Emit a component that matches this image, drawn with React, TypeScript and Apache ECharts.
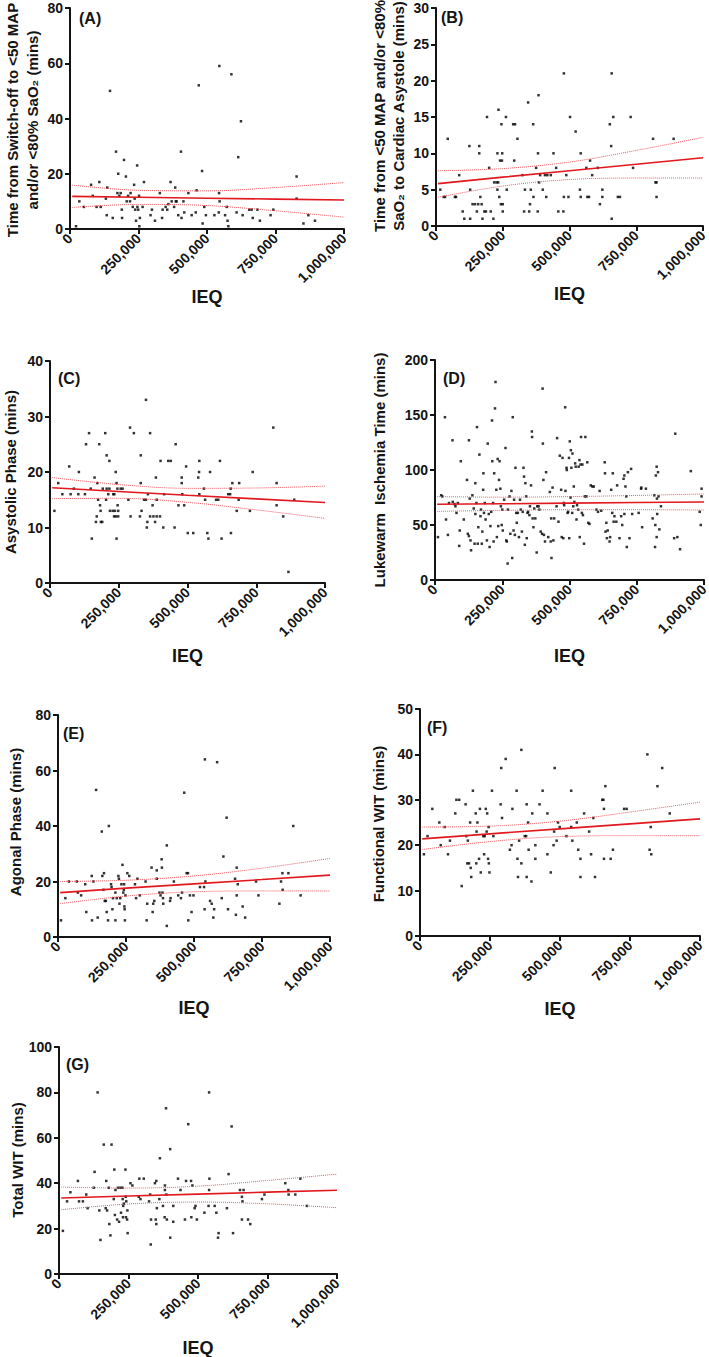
import React, { useEffect, useRef } from "react";
import * as echarts from "echarts";

// IEQ values are stored in thousands; y values in minutes.
const pointsA: number[][] = [[22,1],[34,10],[51,8],[77,16],[83,12],[97,8],[107,17],[112,8],[131,11],[134,5],[136,15],[146,50],[156,4],[168,28],[173,13],[176,20],[180,12],[185,13],[189,7],[190,4],[197,25],[204,19],[207,10],[212,12],[219,10],[221,13],[229,8],[234,16],[236,11],[238,7],[241,3],[245,23],[246,8],[249,7],[252,12],[253,1],[255,4],[265,8],[270,17],[294,5],[299,7],[310,3],[328,13],[336,4],[338,7],[349,8],[355,7],[359,9],[367,17],[371,10],[380,8],[384,15],[386,10],[389,10],[395,5],[405,28],[407,4],[414,10],[417,6],[432,13],[444,5],[459,6],[462,14],[470,52],[482,21],[484,2],[490,8],[496,5],[527,5],[543,6],[544,13],[545,59],[546,10],[566,5],[572,8],[575,3],[578,1],[589,56],[608,6],[614,26],[624,39],[630,5],[654,7],[663,7],[667,4],[684,7],[693,3],[732,5],[742,7],[827,19],[827,11],[852,2],[870,5],[894,3]];

const pointsB: number[][] = [[16,5],[29,4],[34,4],[44,12],[71,4],[75,4],[87,7],[100,2],[106,1],[125,11],[128,5],[128,1],[137,3],[146,3],[153,2],[158,3],[162,11],[162,10],[166,4],[171,3],[174,1],[181,2],[187,2],[191,15],[199,8],[205,2],[215,1],[218,6],[227,6],[230,10],[230,5],[233,6],[234,16],[237,4],[240,9],[243,3],[245,14],[247,9],[248,10],[250,3],[250,2],[262,15],[265,5],[289,14],[293,9],[296,14],[305,12],[324,7],[330,2],[333,5],[345,17],[349,2],[352,3],[355,5],[364,14],[365,4],[375,8],[381,2],[382,10],[384,18],[386,6],[390,7],[400,5],[408,7],[413,4],[417,7],[430,7],[440,10],[450,8],[458,2],[477,2],[479,21],[479,4],[488,7],[496,4],[502,15],[523,13],[539,5],[542,10],[542,4],[563,8],[567,4],[573,4],[577,9],[585,7],[606,8],[614,3],[623,5],[623,4],[651,14],[656,11],[658,21],[658,1],[664,15],[681,4],[689,4],[729,15],[738,8],[813,12],[822,6],[826,6],[826,4],[890,12]];

const pointsC: number[][] = [[16,13],[30,18],[45,16],[70,21],[75,16],[87,17],[103,16],[105,20],[127,16],[131,25],[142,27],[148,17],[152,8],[162,19],[167,11],[170,12],[172,18],[175,15],[179,25],[182,14],[184,13],[185,11],[190,11],[192,17],[201,27],[204,15],[206,17],[206,23],[212,16],[216,22],[216,17],[218,13],[228,13],[230,16],[233,12],[234,16],[236,13],[239,20],[239,12],[242,18],[242,8],[245,17],[246,14],[248,13],[248,12],[257,17],[264,17],[285,15],[291,28],[293,12],[305,27],[327,12],[330,18],[330,23],[333,13],[342,15],[349,33],[349,15],[352,10],[354,11],[356,16],[364,27],[364,12],[373,14],[376,12],[382,11],[385,19],[388,15],[388,12],[400,12],[402,22],[412,10],[415,16],[430,22],[439,22],[453,10],[457,25],[467,14],[479,19],[479,18],[481,16],[488,14],[495,21],[501,9],[521,9],[539,19],[542,20],[543,22],[543,16],[560,17],[564,15],[572,9],[576,8],[582,20],[604,15],[612,15],[618,22],[624,8],[648,16],[655,16],[657,17],[658,9],[663,18],[679,13],[686,15],[688,18],[727,13],[737,20],[812,28],[824,18],[824,14],[848,12],[867,2],[888,15]];

const pointsD: number[][] = [[11,39],[23,77],[27,76],[37,148],[41,55],[48,41],[52,70],[65,127],[66,71],[73,69],[76,67],[80,61],[85,70],[90,31],[92,45],[96,108],[107,55],[119,91],[122,42],[126,127],[126,40],[129,74],[132,36],[134,27],[139,77],[144,65],[147,33],[150,88],[150,60],[154,70],[156,139],[159,33],[161,48],[165,114],[169,58],[171,64],[174,33],[176,44],[179,82],[180,97],[182,61],[185,70],[188,55],[193,36],[196,124],[200,60],[203,30],[206,49],[209,62],[212,145],[213,108],[216,70],[218,35],[220,97],[223,156],[225,180],[228,82],[230,39],[233,110],[235,49],[238,91],[240,108],[243,83],[245,67],[248,50],[250,64],[252,45],[257,73],[262,120],[265,36],[267,35],[270,15],[271,64],[277,76],[280,42],[284,81],[287,20],[289,148],[292,45],[294,73],[297,41],[299,102],[302,61],[304,52],[308,61],[312,39],[316,73],[319,64],[323,44],[326,62],[329,102],[331,94],[334,32],[336,88],[339,76],[341,38],[344,61],[346,62],[351,59],[353,67],[357,86],[360,135],[361,130],[363,56],[366,48],[369,65],[373,56],[378,25],[380,67],[385,67],[388,64],[393,44],[398,42],[400,174],[401,124],[403,91],[405,41],[409,35],[413,98],[421,39],[427,80],[430,35],[432,56],[433,20],[437,84],[440,36],[443,56],[452,67],[454,129],[459,53],[464,113],[469,82],[471,39],[474,111],[477,38],[479,70],[480,68],[484,157],[485,81],[489,102],[490,100],[493,61],[495,62],[498,111],[499,38],[501,126],[504,75],[505,118],[507,102],[510,61],[511,115],[514,67],[516,85],[518,71],[521,106],[523,103],[526,55],[528,68],[532,64],[534,103],[537,109],[538,39],[541,105],[543,130],[546,61],[548,105],[550,59],[554,33],[557,76],[559,130],[563,76],[566,107],[570,52],[574,51],[579,86],[585,85],[590,85],[600,64],[606,62],[612,81],[618,63],[631,107],[632,97],[634,44],[637,52],[639,38],[642,45],[649,35],[651,39],[655,82],[659,61],[661,97],[664,53],[667,58],[674,53],[677,86],[686,38],[692,58],[696,50],[701,92],[704,95],[704,60],[708,85],[711,76],[713,30],[717,98],[723,38],[729,101],[733,60],[757,61],[766,83],[767,84],[770,48],[784,83],[809,56],[815,77],[818,30],[819,50],[821,95],[824,103],[824,39],[825,74],[826,60],[829,98],[831,76],[834,46],[840,67],[889,38],[893,133],[901,39],[911,28],[951,99],[984,62],[988,50],[991,83],[991,76]];

const pointsE: number[][] = [[11,6],[27,14],[40,20],[69,20],[73,16],[85,15],[100,19],[104,9],[124,22],[125,6],[130,20],[140,53],[146,7],[161,38],[163,22],[167,17],[169,23],[172,13],[176,13],[179,9],[184,6],[187,40],[195,19],[197,18],[200,10],[202,14],[211,16],[211,6],[216,14],[222,22],[224,21],[226,12],[229,14],[233,19],[237,26],[240,16],[242,17],[243,19],[244,11],[245,10],[246,6],[248,15],[255,23],[262,22],[283,19],[287,14],[292,21],[301,15],[322,20],[326,6],[328,12],[344,25],[348,9],[350,12],[354,13],[363,24],[363,21],[373,16],[377,15],[381,28],[382,25],[384,16],[386,14],[387,12],[400,33],[400,4],[412,13],[414,14],[426,20],[442,15],[452,14],[456,16],[464,52],[473,23],[478,23],[479,6],[485,15],[491,9],[498,15],[522,18],[537,18],[539,10],[540,64],[542,20],[559,13],[565,12],[571,7],[574,10],[585,63],[602,14],[608,29],[620,43],[625,10],[651,21],[654,8],[657,25],[657,15],[661,19],[679,11],[688,7],[728,20],[737,15],[814,12],[820,20],[825,23],[826,17],[847,23],[865,40],[892,15]];

const pointsF: number[][] = [[14,18],[27,22],[44,28],[69,25],[74,20],[88,24],[100,18],[107,21],[126,27],[130,30],[140,30],[149,11],[163,29],[165,22],[169,16],[171,21],[175,16],[179,25],[181,15],[183,13],[189,32],[199,27],[201,16],[202,23],[205,25],[211,17],[214,28],[217,14],[226,22],[229,18],[231,22],[235,28],[238,23],[240,27],[243,17],[245,24],[246,16],[248,14],[257,32],[262,22],[288,29],[290,37],[293,26],[306,39],[321,19],[327,20],[330,28],[345,32],[348,17],[350,13],[354,21],[362,16],[362,41],[374,22],[379,22],[381,29],[381,13],[386,25],[388,19],[398,12],[401,27],[412,20],[412,17],[427,29],[438,32],[455,27],[455,18],[467,14],[477,20],[479,23],[481,37],[488,21],[493,25],[499,24],[523,22],[540,32],[540,24],[544,21],[560,25],[565,19],[573,17],[573,13],[586,27],[604,23],[611,18],[619,26],[625,13],[651,30],[655,30],[657,28],[657,17],[662,33],[681,17],[689,19],[729,28],[738,28],[812,40],[820,19],[824,24],[826,18],[848,33],[865,37],[892,27]];

const pointsG: number[][] = [[14,19],[29,32],[41,36],[68,41],[72,32],[86,32],[98,35],[103,29],[125,38],[128,45],[139,80],[145,28],[149,15],[161,57],[168,29],[170,41],[173,28],[179,38],[181,22],[185,17],[189,57],[197,33],[199,46],[203,37],[201,26],[209,24],[212,38],[216,23],[221,38],[223,27],[228,38],[229,33],[230,25],[231,30],[233,31],[239,46],[240,34],[241,25],[242,32],[245,24],[246,28],[247,18],[257,40],[264,39],[287,34],[289,42],[293,33],[305,42],[324,32],[328,35],[330,13],[331,24],[345,40],[348,24],[350,41],[350,22],[352,29],[361,33],[363,51],[374,30],[380,25],[381,37],[381,39],[385,73],[386,35],[388,24],[400,55],[400,16],[411,30],[411,23],[428,42],[437,37],[453,24],[457,41],[465,66],[475,41],[476,25],[480,39],[488,29],[491,30],[496,24],[523,27],[540,80],[541,42],[540,37],[538,30],[560,30],[566,27],[572,16],[574,18],[604,29],[610,44],[621,65],[626,18],[651,37],[658,34],[660,32],[658,24],[664,37],[680,24],[688,22],[730,33],[739,35],[814,40],[825,37],[826,35],[850,35],[868,42],[892,30]];

// Regression line and 95% band values (IEQ in thousands)
const bandX: number[] = [8, 250, 500, 750, 1000];
const fitA: number[] = [11.8, 11.47, 11.15, 10.83, 10.5];
const upperA: number[] = [15.9, 14.0, 13.8, 15.0, 16.8];
const lowerA: number[] = [7.8, 8.9, 8.5, 6.6, 4.3];
const fitB: number[] = [5.83, 6.72, 7.6, 8.5, 9.4];
const upperB: number[] = [7.6, 7.9, 8.8, 10.4, 12.2];
const lowerB: number[] = [3.95, 5.5, 6.4, 6.6, 6.6];
const fitC: number[] = [17.15, 16.5, 15.8, 15.15, 14.5];
const upperC: number[] = [19.0, 17.74, 17.06, 17.12, 17.45];
const lowerC: number[] = [15.2, 15.26, 14.54, 13.18, 11.65];
const fitD: number[] = [68.8, 69.3, 69.85, 70.4, 70.9];
const upperD: number[] = [75.8, 75.3, 75.8, 76.9, 78.2];
const lowerD: number[] = [62.4, 63.3, 63.9, 63.9, 63.6];
const fitE: number[] = [16.0, 17.6, 19.15, 20.7, 22.3];
const upperE: number[] = [20.0, 20.45, 22.0, 24.8, 28.3];
const lowerE: number[] = [12.0, 14.75, 16.3, 16.6, 16.6];
const fitF: number[] = [21.4, 22.5, 23.6, 24.7, 25.8];
const upperF: number[] = [24.0, 24.2, 25.3, 27.3, 29.5];
const lowerF: number[] = [19.05, 20.8, 21.9, 22.1, 22.1];
const fitG: number[] = [33.5, 34.35, 35.2, 36.05, 36.9];
const upperG: number[] = [38.3, 37.85, 38.7, 41.2, 44.0];
const lowerG: number[] = [28.3, 30.85, 31.7, 30.9, 29.2];

const panelTags: string[] = ["(A)", "(B)", "(C)", "(D)", "(E)", "(F)", "(G)"];
const yTitles: string[] = [
  "Time from Switch-off to <50 MAP\nand/or <80% SaO\u2082 (mins)",
  "Time from <50 MAP and/or <80%\nSaO\u2082 to Cardiac Asystole (mins)",
  "Asystolic Phase (mins)",
  "Lukewarm  Ischemia Time (mins)",
  "Agonal Phase (mins)",
  "Functional WIT (mins)",
  "Total WIT (mins)",
];
const yMax: number[] = [80, 30, 40, 200, 80, 50, 100];
const yStep: number[] = [20, 5, 10, 50, 20, 10, 20];
const xTitle = "IEQ";
const xMax = 1000000;
const xStep = 250000;

// Layout (pixels)
const layout = [
  { left: 70, top: 8, width: 274, height: 221, tx: 22.5, ty: 120, tf: 15, lh: 20, gx: 79, gy: 18, nameGap: 54 },
  { left: 436, top: 8, width: 267, height: 218, tx: 389, ty: 116, tf: 15, lh: 19, gx: 441, gy: 17, nameGap: 55 },
  { left: 50, top: 361, width: 275, height: 222, tx: 10, ty: 472, tf: 15, lh: 19, gx: 58, gy: 378, nameGap: 64 },
  { left: 435, top: 360, width: 269, height: 220, tx: 379, ty: 470, tf: 15, lh: 19, gx: 443, gy: 378, nameGap: 67 },
  { left: 58, top: 715, width: 272, height: 222, tx: 15, ty: 822, tf: 15, lh: 19, gx: 63, gy: 733, nameGap: 62 },
  { left: 420, top: 709, width: 280, height: 227, tx: 378, ty: 824, tf: 15, lh: 19, gx: 427, gy: 727, nameGap: 64 },
  { left: 59, top: 1047, width: 278, height: 227, tx: 17, ty: 1160, tf: 15, lh: 19, gx: 66, gy: 1064, nameGap: 65 },
];

const FONT = '"Liberation Sans", Arial, Helvetica, sans-serif';
const INK = "#141414";
const RED = "#e2181f";

function fmt(v: number): string {
  return String(Math.round(v)).replace(/\B(?=(\d{3})+(?!\d))/g, ",");
}

export default function App() {
  const ref = useRef<HTMLDivElement>(null);
  useEffect(() => {
    if (!ref.current) return;
    const chart = echarts.init(ref.current, null, { renderer: "svg" });
    const points = [pointsA, pointsB, pointsC, pointsD, pointsE, pointsF, pointsG];
    const fits = [fitA, fitB, fitC, fitD, fitE, fitF, fitG];
    const uppers = [upperA, upperB, upperC, upperD, upperE, upperF, upperG];
    const lowers = [lowerA, lowerB, lowerC, lowerD, lowerE, lowerF, lowerG];
    const toXY = (ys: number[]) => bandX.map((x, i) => [x * 1000, ys[i]]);

    const grid: any[] = [];
    const xAxis: any[] = [];
    const yAxis: any[] = [];
    const series: any[] = [];
    const graphic: any[] = [];

    layout.forEach((L, i) => {
      grid.push({
        left: L.left, top: L.top, width: L.width, height: L.height,
        containLabel: false, outerBoundsMode: "none",
      });
      const axisCommon = {
        axisLine: { show: true, lineStyle: { color: INK, width: 2 } },
        axisTick: { show: true, length: 5, lineStyle: { color: INK, width: 2 } },
        splitLine: { show: false },
      };
      xAxis.push({
        gridIndex: i, type: "value", min: 0, max: xMax, interval: xStep,
        ...axisCommon,
        axisLabel: {
          rotate: 45, margin: 7, fontSize: 14, fontWeight: "bold", fontFamily: FONT, color: INK,
          formatter: (v: number) => fmt(v), showMaxLabel: true, showMinLabel: true,
        },
        name: xTitle, nameLocation: "middle", nameGap: L.nameGap,
        nameTextStyle: { fontSize: 18, fontWeight: "bold", fontFamily: FONT, color: INK },
      });
      yAxis.push({
        gridIndex: i, type: "value", min: 0, max: yMax[i], interval: yStep[i],
        ...axisCommon,
        axisLabel: { margin: 7, fontSize: 14, fontWeight: "bold", fontFamily: FONT, color: INK, showMaxLabel: true },
      });
      series.push({
        type: "scatter", xAxisIndex: i, yAxisIndex: i, symbol: "rect", symbolSize: 2.5,
        itemStyle: { color: "#000" }, data: points[i].map((p) => [p[0] * 1000, p[1]]), z: 2,
      });
      series.push({
        type: "line", xAxisIndex: i, yAxisIndex: i, showSymbol: false, symbol: "none",
        lineStyle: { color: RED, width: 1.6 }, data: toXY(fits[i]), z: 4,
      });
      [uppers[i], lowers[i]].forEach((b) => {
        series.push({
          type: "line", xAxisIndex: i, yAxisIndex: i, showSymbol: false, symbol: "none", smooth: 0.35,
          lineStyle: { color: "#ee5a62", width: 1, type: "dotted" }, data: toXY(b), z: 3,
        });
      });
      graphic.push({
        type: "text", x: L.tx, y: L.ty, rotation: Math.PI / 2,
        style: {
          text: yTitles[i], fill: INK, font: `bold ${L.tf}px ${FONT}`,
          align: "center", verticalAlign: "middle", lineHeight: L.lh,
        },
      });
      graphic.push({
        type: "text", x: L.gx, y: L.gy,
        style: { text: panelTags[i], fill: INK, font: `bold 16px ${FONT}`, align: "left", verticalAlign: "middle" },
      });
    });

    chart.setOption({
      animation: false,
      backgroundColor: "#ffffff",
      grid, xAxis, yAxis, series, graphic,
    });
    return () => chart.dispose();
  }, []);

  return (
    <div
      ref={ref}
      style={{ position: "absolute", left: 0, top: 0, width: 709, height: 1357, background: "#fff" }}
    />
  );
}
